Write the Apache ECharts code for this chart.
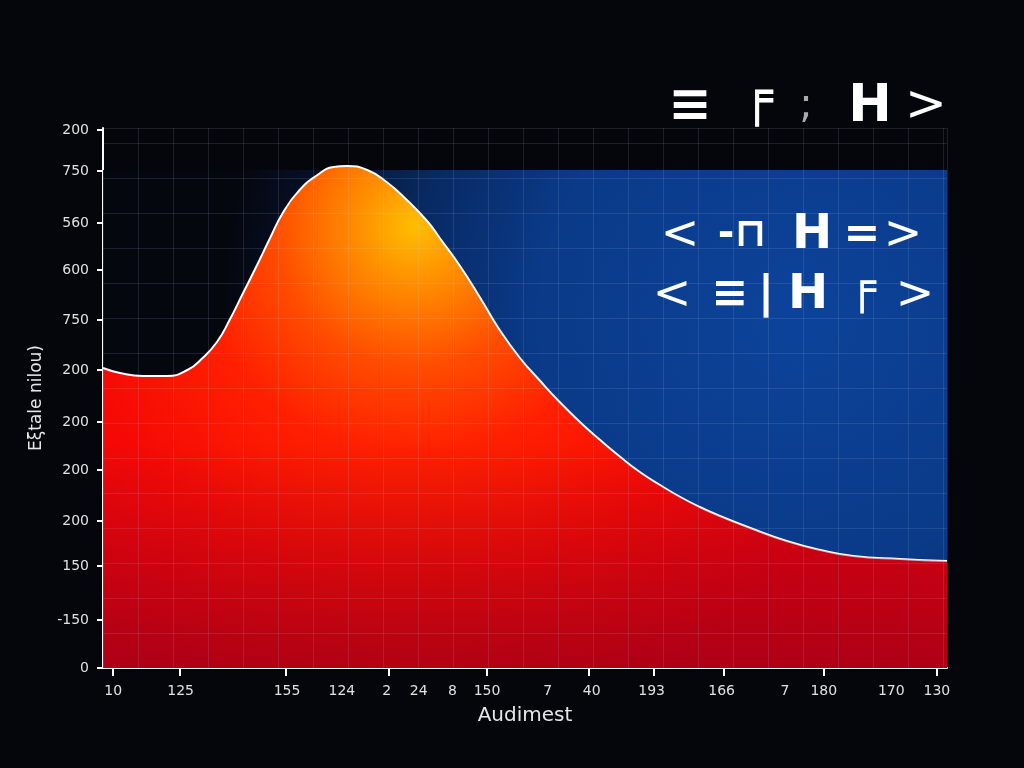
<!DOCTYPE html>
<html>
<head>
<meta charset="utf-8">
<script src="https://cdn.jsdelivr.net/npm/echarts@6/dist/echarts.min.js"></script>
<style>html,body{margin:0;padding:0;background:#05060b;}#c{width:1024px;height:768px;}</style>
</head>
<body>
<div id="c"></div>
<script>
// Curve samples (x in 0..100 axis units, y in 0..540 axis units)
var curveX = [0, 2.0, 4.7, 7.6, 10.0, 11.8, 13.5, 15.0, 16.6, 18.2, 19.8, 21.3, 23.3, 25.4, 27.3, 28.9, 31.3, 33.6, 36.0, 38.5, 39.9, 42.3, 44.7, 47.0, 49.4, 51.8, 54.1, 56.5, 58.9, 61.3, 63.6, 66.0, 68.4, 70.7, 73.1, 76.7, 81.0, 85.0, 88.9, 94.4, 100];
var curveY = [300, 295, 292, 292, 298, 310, 326, 348, 375, 402, 430, 455, 478, 493, 501, 502, 498, 486, 468, 446, 430, 402, 370, 338, 310, 287, 266, 246, 228, 211, 196, 183, 171, 161, 152, 140, 127, 118, 112, 109, 107];

// X axis tick labels and their positions
var xLabelPos = [1.2, 9.2, 21.8, 28.3, 33.6, 37.4, 41.4, 45.5, 52.7, 57.9, 65.0, 73.3, 80.8, 85.4, 93.4, 98.8];
var xLabels = ['10', '125', '155', '124', '2', '24', '8', '150', '7', '40', '193', '166', '7', '180', '170', '130'];
var xTickPos = [1.1, 9.1, 21.7, 33.8, 45.5, 57.6, 65.2, 73.5, 85.4, 98.8];

// Y axis tick labels and their positions
var yLabelPos = [0, 48, 102, 147, 198, 246, 298, 348, 398, 445, 497, 538];
var yLabels = ['0', '-150', '150', '200', '200', '200', '200', '750', '600', '560', '750', '200'];

var xName = 'Audimest';
var yName = 'E\u03betale nilou)';

var data = curveX.map(function (x, i) { return [x, curveY[i]]; });

function lookup(pos, labels, v) {
  for (var i = 0; i < pos.length; i++) if (Math.abs(pos[i] - v) < 0.01) return labels[i];
  return '';
}

var chart = echarts.init(document.getElementById('c'), null, {renderer: 'canvas'});
var glyph = function (txt, x, y, size, weight, fill) {
  return {type: 'text', x: x, y: y, z: 10, style: {text: txt, fill: fill || '#ffffff', font: (weight || 'bold') + ' ' + size + 'px "DejaVu Sans"', textAlign: 'center', textVerticalAlign: 'middle'}};
};
var option = {
  backgroundColor: '#05060b',
  animation: false,
  grid: {left: 103, right: 77, top: 128, bottom: 100},
  xAxis: [{
    type: 'value', min: 0, max: 100,
    name: xName, nameLocation: 'middle', nameGap: 38,
    nameTextStyle: {color: '#e6e6e6', fontSize: 20, fontFamily: 'DejaVu Sans'},
    axisLine: {show: true, onZero: false, lineStyle: {color: '#ffffff', width: 2}},
    axisTick: {show: true, customValues: xTickPos, length: 8, lineStyle: {color: '#ffffff', width: 2}},
    axisLabel: {customValues: xLabelPos, margin: 16, color: '#e0e0e0', fontSize: 14, fontFamily: 'DejaVu Sans',
      formatter: function (v) { return lookup(xLabelPos, xLabels, v); }},
    splitLine: {show: false}
  }, {
    type: 'value', min: 0, max: 844, interval: 35, position: 'top', z: 5,
    axisLine: {show: false}, axisTick: {show: false}, axisLabel: {show: false},
    splitLine: {show: true, lineStyle: {color: 'rgba(200,210,255,0.12)', width: 1}}
  }],
  yAxis: [{
    type: 'value', min: 0, max: 540,
    name: yName, nameLocation: 'middle', nameGap: 58, nameRotate: 90,
    nameTextStyle: {color: '#e6e6e6', fontSize: 17, fontFamily: 'DejaVu Sans'},
    axisLine: {show: true, onZero: false, lineStyle: {color: '#ffffff', width: 2}},
    axisTick: {show: true, customValues: yLabelPos, length: 6, lineStyle: {color: '#ffffff', width: 2}},
    axisLabel: {customValues: yLabelPos, margin: 14, color: '#e0e0e0', fontSize: 14, fontFamily: 'DejaVu Sans',
      formatter: function (v) { return lookup(yLabelPos, yLabels, v); }},
    splitLine: {show: false}
  }, {
    type: 'value', min: 0, max: 540, interval: 35, position: 'right', z: 5,
    axisLine: {show: false}, axisTick: {show: false}, axisLabel: {show: false},
    splitLine: {show: true, lineStyle: {color: 'rgba(200,210,255,0.12)', width: 1}}
  }],
  series: [{
    type: 'line', data: data, smooth: 0.5, showSymbol: false, z: 2,
    lineStyle: {color: '#ffffff', width: 2},
    areaStyle: {color: {type: 'radial', x: 0.37, y: 0.12, r: 1, colorStops: [
      {offset: 0, color: '#ffbe00'},
      {offset: 0.12, color: '#ff8c00'},
      {offset: 0.28, color: '#ff4c00'},
      {offset: 0.45, color: '#ff2000'},
      {offset: 0.7, color: '#f60a05'},
      {offset: 1, color: '#e20010'}
    ]}, opacity: 1},
    markArea: {silent: true, itemStyle: {color: {type: 'radial', x: 0.82, y: 0.3, r: 1.15, colorStops: [
      {offset: 0, color: '#0c439a'},
      {offset: 0.45, color: '#0a3a88'},
      {offset: 0.68, color: '#082962'},
      {offset: 0.85, color: '#06122c'},
      {offset: 1, color: '#05070f'}
    ]}}, data: [[{xAxis: 0, yAxis: 0}, {xAxis: 100, yAxis: 498}]]}
  }, {
    type: 'line', data: data, smooth: 0.5, showSymbol: false, silent: true, z: 3,
    lineStyle: {width: 0, opacity: 0},
    areaStyle: {color: {type: 'linear', x: 0, y: 0, x2: 0, y2: 1, colorStops: [
      {offset: 0, color: 'rgba(140,0,25,0)'},
      {offset: 0.55, color: 'rgba(140,0,25,0)'},
      {offset: 1, color: 'rgba(140,0,25,0.6)'}
    ]}, opacity: 1}
  }],
  graphic: [
    glyph('\u2261', 690, 107, 52), glyph('\u2552', 757, 100, 52), glyph(';', 806, 107, 40, 'normal', '#aaaaaa'), glyph('H', 870, 107, 52), glyph('>', 926, 107, 50, 'normal'),
    glyph('<', 680, 236, 46, 'normal'), glyph('-\u2293', 742, 236, 40), glyph('H', 812, 236, 48), glyph('=', 862, 236, 44), glyph('>', 903, 236, 46, 'normal'),
    glyph('<', 672, 296, 46, 'normal'), glyph('\u2261', 730, 296, 44), glyph('|', 766, 296, 44), glyph('H', 808, 296, 48), glyph('\u2552', 862, 290, 46), glyph('>', 915, 296, 46, 'normal')
  ]
};
chart.setOption(option);
</script>
</body>
</html>
